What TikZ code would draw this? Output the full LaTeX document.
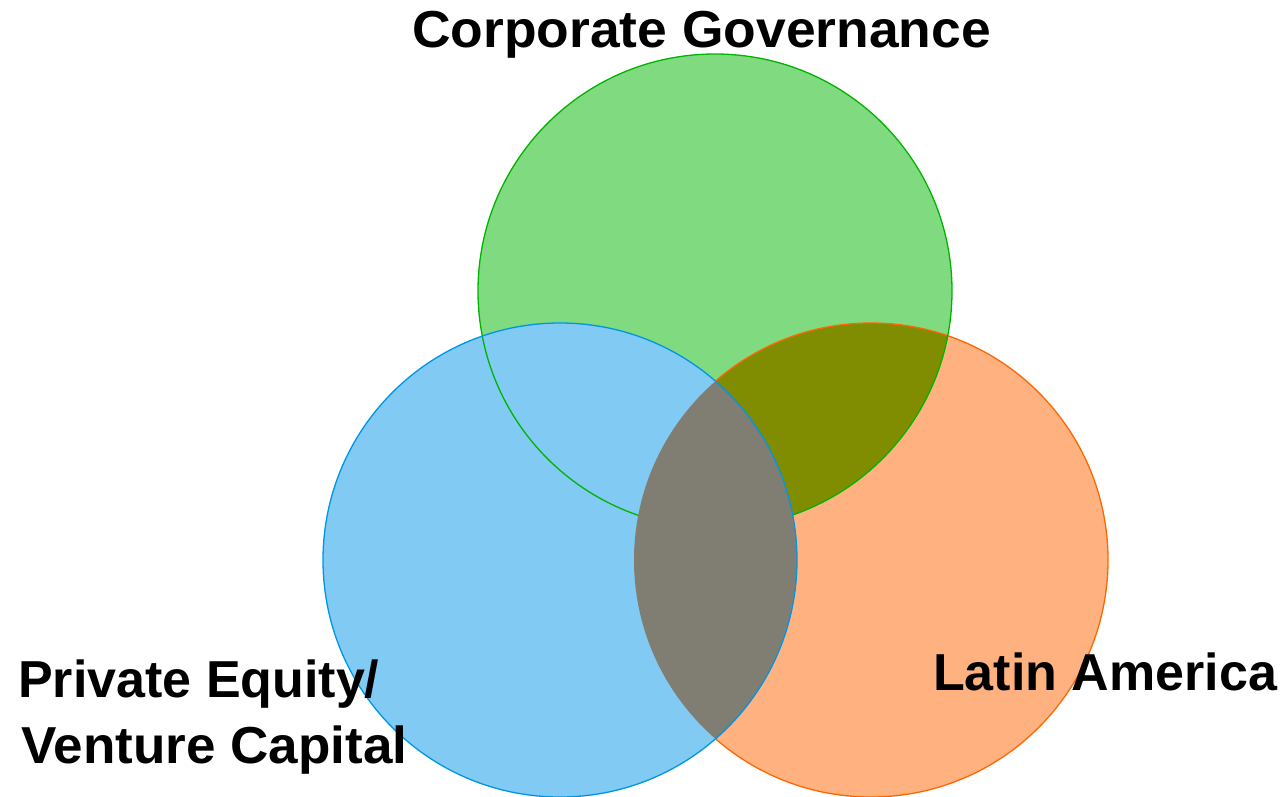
\documentclass[tikz,border=0pt]{standalone}
\usepackage{fontspec}
\setmainfont{Liberation Sans}
\definecolor{cg}{RGB}{0,180,0}
\definecolor{co}{RGB}{255,102,0}
\definecolor{cb}{RGB}{0,150,230}
\colorlet{gw}{cg!50!white}
\colorlet{ow}{co!50!white}
\colorlet{bw}{cb!50!white}
\colorlet{go}{cg!50!co}
\colorlet{bo}{cb!50!co}
\tikzset{
  lbl/.style={anchor=base west, inner sep=0pt, font=\fontsize{52}{60}\selectfont\bfseries},
  rim/.style={line width=1.3pt}
}
\begin{document}
\begin{tikzpicture}[x=1pt,y=-1pt]
\useasboundingbox (0,0) rectangle (1286,796);
\coordinate (G) at (715,291);
\coordinate (B) at (560,560);
\coordinate (O) at (871,560);
\def\R{237}
% fills
\fill[gw] (G) circle[radius=\R];
\fill[ow] (O) circle[radius=\R];
\begin{scope}
  \clip (G) circle[radius=\R];
  \fill[go] (O) circle[radius=\R];
\end{scope}
\draw[co, rim] (O) circle[radius=\R];
\fill[bw] (B) circle[radius=\R];
\draw[cg, rim] (G) circle[radius=\R];
\begin{scope}
  \clip (B) circle[radius=\R];
  \fill[bo] (O) circle[radius=\R];
\end{scope}
\draw[cb, rim] (B) circle[radius=\R];
% labels
\node[lbl, xscale=1.027] (cgl) at (412,47) {Corporate Governance};
\node[lbl] (la) at (933,690) {Latin America};
\node[lbl] (pe) at (18,697) {Private Equity/};
\node[lbl, xscale=1.02] (vc) at (21,763) {Venture Capital};
\end{tikzpicture}
\end{document}
